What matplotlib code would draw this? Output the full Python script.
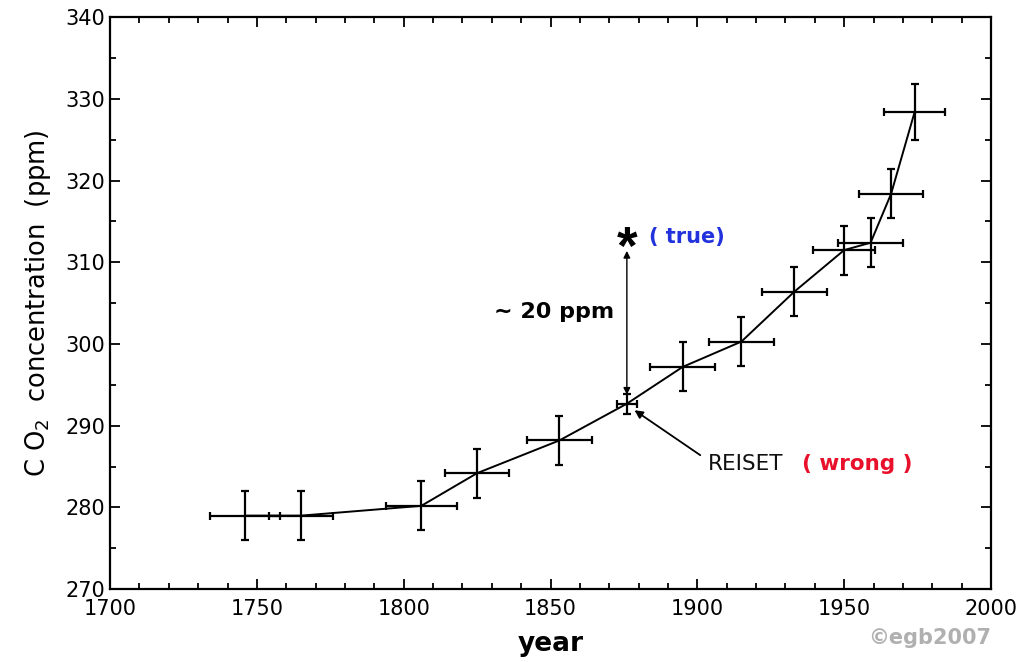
import matplotlib
matplotlib.use("Agg")
import matplotlib.pyplot as plt
from matplotlib.ticker import MultipleLocator

years = [1746, 1765, 1806, 1825, 1853, 1876, 1895, 1915, 1933, 1950, 1959, 1966, 1974]
ppm = [279.0, 279.0, 280.2, 284.2, 288.2, 292.7, 297.2, 300.3, 306.4, 311.5, 312.4, 318.4, 328.4]
year_err = [12, 11, 12, 11, 11, 3.5, 11, 11, 11, 10.5, 11, 11, 10.5]
ppm_err = [3, 3, 3, 3, 3, 1.2, 3, 3, 3, 3, 3, 3, 3.4]

true_year = 1876
true_ppm = 313.1

xticks = [1700, 1750, 1800, 1850, 1900, 1950, 2000]
yticks = [270, 280, 290, 300, 310, 320, 330, 340]

fig = plt.figure(figsize=(10.19, 6.62), dpi=100)
ax = fig.add_axes([0.108, 0.110, 0.8645, 0.864])

ax.errorbar(years, ppm, xerr=year_err, yerr=ppm_err, color="black", lw=1.4,
            elinewidth=1.6, capsize=3, capthick=1.6)

ax.annotate("*", xy=(true_year, true_ppm), xytext=(0, -9),
            textcoords="offset points", ha="center", va="center", fontsize=38,
            fontweight="bold", family="Liberation Sans")
ax.annotate("", xy=(true_year, 311.4), xytext=(true_year, 293.8),
            arrowprops=dict(arrowstyle="<|-|>", color="black", lw=1.0,
                            mutation_scale=10, shrinkA=0, shrinkB=0))
ax.text(1871.5, 303.9, "~ 20 ppm", ha="right", va="center", fontsize=16,
        fontweight="bold", family="DejaVu Sans")
ax.text(1883.5, 313.1, "( true)", ha="left", va="center", fontsize=15,
        fontweight="bold", color="#2233dd", family="DejaVu Sans")

ax.annotate("", xy=(1878.6, 291.9), xytext=(1901, 286.4),
            arrowprops=dict(arrowstyle="-|>", color="black", lw=1.3,
                            mutation_scale=12, shrinkA=0, shrinkB=0))
ax.text(1903.5, 285.3, "REISET", ha="left", va="center", fontsize=15.5,
        family="DejaVu Sans", color="#111111")
ax.text(1935.5, 285.3, "( wrong )", ha="left", va="center", fontsize=15.5,
        fontweight="bold", color="#e8102a", family="DejaVu Sans")

ax.set_xlim(1700, 2000)
ax.set_ylim(270, 340)
ax.set_xticks(xticks)
ax.set_yticks(yticks)
ax.xaxis.set_minor_locator(MultipleLocator(10))
ax.yaxis.set_minor_locator(MultipleLocator(5))
ax.tick_params(which="both", direction="in", top=True, right=True, width=1.3,
               labelsize=15)
ax.tick_params(axis="x", which="major", pad=7)
ax.tick_params(which="major", length=7)
ax.tick_params(which="minor", length=4)
for s in ax.spines.values():
    s.set_linewidth(1.6)

ax.set_xlabel("year", fontsize=19, fontweight="bold", family="DejaVu Sans",
              labelpad=9)
ax.set_ylabel("C O$_2$  concentration  (ppm)", fontsize=18.5,
              family="DejaVu Sans", labelpad=9)

fig.text(0.912, 0.036, "©egb2007", ha="center", va="center", fontsize=15,
         fontweight="bold", color="#b0b0b0", family="DejaVu Sans")

fig.savefig("out.png", dpi=100)
